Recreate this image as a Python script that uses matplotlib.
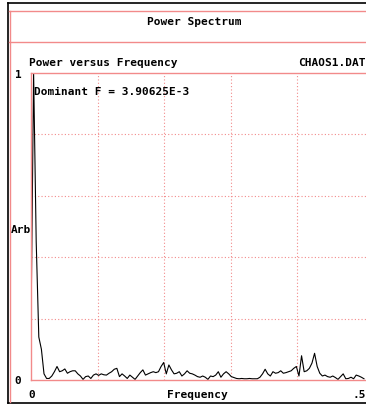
import numpy as np
import matplotlib
matplotlib.use("Agg")
import matplotlib.pyplot as plt
from matplotlib.lines import Line2D

# spectrum of CHAOS1.DAT, 256-point FFT -> bins of 1/256
df = 3.90625e-3
power = [0.17, 1.0, 0.45, 0.14, 0.10, 0.02, 0.005, 0.005, 0.013, 0.027,
         0.044, 0.027, 0.03, 0.036, 0.022, 0.027, 0.03, 0.03, 0.02, 0.013,
         0.002, 0.011, 0.013, 0.005, 0.016, 0.02, 0.015, 0.02, 0.017, 0.016,
         0.022, 0.027, 0.035, 0.038, 0.011, 0.02, 0.013, 0.005, 0.016, 0.009,
         0.002, 0.013, 0.024, 0.033, 0.016, 0.02, 0.024, 0.027, 0.024, 0.027,
         0.044, 0.057, 0.02, 0.049, 0.033, 0.02, 0.022, 0.027, 0.013, 0.02,
         0.03, 0.022, 0.02, 0.016, 0.011, 0.009, 0.013, 0.009, 0.002, 0.013,
         0.011, 0.016, 0.027, 0.009, 0.02, 0.027, 0.02, 0.011, 0.008, 0.005,
         0.004, 0.005, 0.004, 0.004, 0.005, 0.004, 0.004, 0.004, 0.009, 0.02,
         0.035, 0.02, 0.013, 0.027, 0.022, 0.024, 0.03, 0.022, 0.024, 0.027,
         0.03, 0.038, 0.044, 0.013, 0.079, 0.027, 0.03, 0.038, 0.055, 0.087,
         0.044, 0.022, 0.013, 0.016, 0.011, 0.009, 0.013, 0.008, 0.002, 0.011,
         0.02, 0.004, 0.005, 0.009, 0.004, 0.016, 0.013, 0.009, 0.004]
freq = np.arange(len(power)) * df
xgrid = [0.1, 0.2, 0.3, 0.4]
ygrid = [0.2, 0.4, 0.6, 0.8]

W, H = 366, 408
fig = plt.figure(figsize=(W / 100, H / 100), dpi=100)
fig.patch.set_facecolor("white")

def fx(px):
    return px / W

def fy(py):
    return 1 - py / H

pink = "#f28a8a"
font = dict(family="DejaVu Sans Mono", weight="bold", fontsize=8, color="black")

# window frame
fig.add_artist(Line2D([fx(8), fx(8)], [fy(3), fy(403)], color="black", lw=1.2))
fig.add_artist(Line2D([fx(8), 1], [fy(3), fy(3)], color="black", lw=1.2))
fig.add_artist(Line2D([fx(8), 1], [fy(403), fy(403)], color="black", lw=1.2))
fig.add_artist(Line2D([fx(9.5), fx(9.5)], [fy(11), fy(402)], color=pink, lw=1))
fig.add_artist(Line2D([fx(9), 1], [fy(11), fy(11)], color=pink, lw=1))
fig.add_artist(Line2D([fx(9), 1], [fy(42), fy(42)], color=pink, lw=1))

# plot area
left, right, top, bottom = 31, 366, 73, 380
ax = fig.add_axes([fx(left), fy(bottom), fx(right - left), (bottom - top) / H])
ax.plot(freq, power, color="black", lw=0.8)
ax.set_xlim(0, 0.5 * (right - left) / (364 - left))
ax.set_ylim(0, 1)
ax.set_xticks(xgrid)
ax.set_yticks(ygrid)
ax.tick_params(length=0, labelbottom=False, labelleft=False)
ax.grid(True, color=pink, linestyle=(0, (1, 2)), lw=0.8)
for side in ["left", "bottom", "top"]:
    ax.spines[side].set_color(pink)
    ax.spines[side].set_linewidth(1)
ax.spines["right"].set_visible(False)

ax.text(0.0045, 0.938, "Dominant F = %gE-3" % (df * 1000), va="center", ha="left", **font)

# labels
fig.text(fx(194), fy(22), "Power Spectrum", ha="center", va="center", **font)
fig.text(fx(29), fy(63), "Power versus Frequency", ha="left", va="center", **font)
fig.text(fx(298), fy(63), "CHAOS1.DAT", ha="left", va="center", **font)
fig.text(fx(18), fy(75), "1", ha="center", va="center", **font)
fig.text(fx(18), fy(381), "0", ha="center", va="center", **font)
fig.text(fx(11), fy(230), "Arb", ha="left", va="center", **font)
fig.text(fx(32), fy(395), "0", ha="center", va="center", **font)
fig.text(fx(197), fy(395), "Frequency", ha="center", va="center", **font)
fig.text(fx(366), fy(395), ".5", ha="right", va="center", **font)

fig.savefig("out.png", dpi=100)
